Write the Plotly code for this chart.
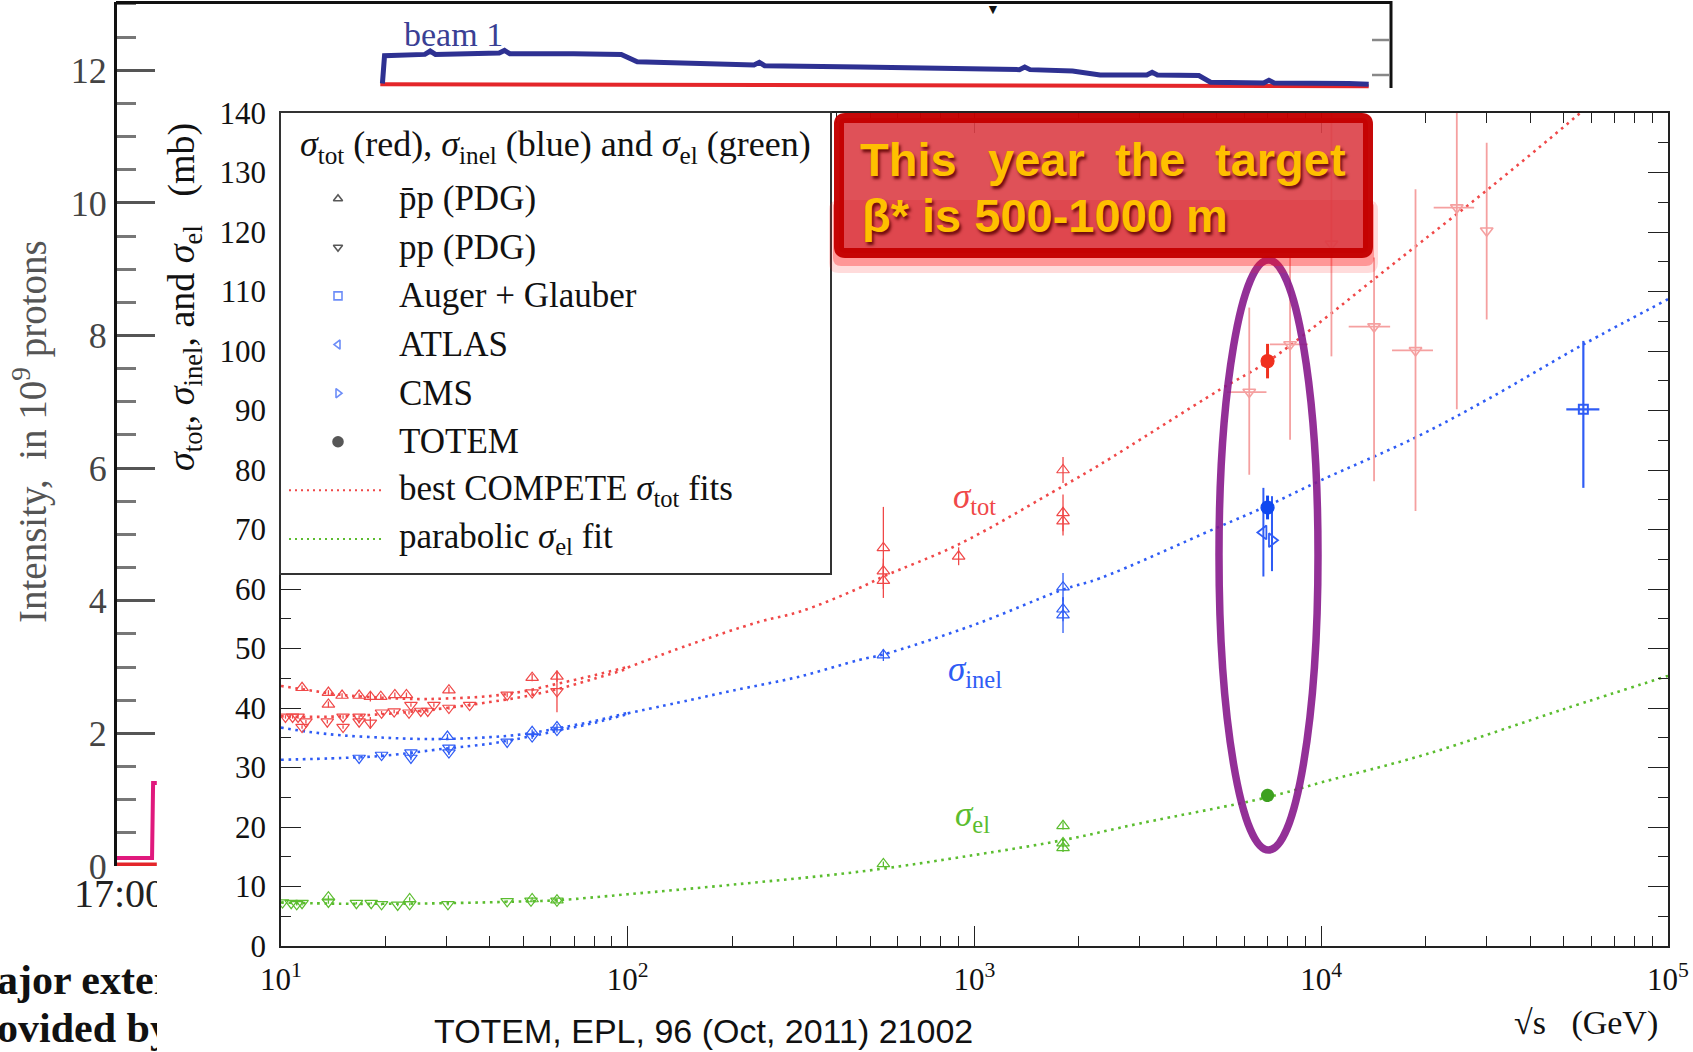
import plotly.graph_objects as go

W, H = 1693, 1052
SERIF = "Liberation Serif, Times New Roman, serif"
SANS = "Liberation Sans, Arial, sans-serif"


def fx(p):
    return p / W


def fy(p):
    return 1 - p / H


# ====================== TOTEM plot data (sqrt(s) [GeV], sigma [mb]) ======================
tot_pbarp_sqrts = [11.5, 13.7, 13.7, 15.0, 16.8, 18.1, 19.4, 21.3, 23.0, 30.5, 53.0, 62.5, 546, 546, 546, 900, 1800, 1800, 1800]
tot_pbarp_sigma = [43.4, 42.6, 40.6, 42.1, 42.1, 41.9, 41.9, 42.2, 42.2, 43.0, 45.1, 45.3, 66.9, 63.0, 61.4, 65.5, 80.0, 72.8, 71.4]
tot_pbarp_err = [0.4, 0.4, 0.5, 0.4, 0.4, 0.8, 0.4, 0.4, 0.4, 0.5, 0.6, 0.9, 6.9, 2.1, 2.9, 1.5, 2.2, 3.1, 2.4]

tot_pp_sqrts = [10.3, 10.8, 11.2, 11.5, 11.8, 13.6, 15.1, 15.1, 16.8, 16.8, 18.1, 19.5, 21.2, 23.4, 23.7, 25.3, 26.5, 27.6, 30.5, 35.0, 44.9, 53.0, 62.5]
tot_pp_sigma = [38.5, 38.5, 38.5, 36.8, 37.7, 37.7, 36.8, 38.5, 37.7, 38.5, 37.5, 39.2, 39.4, 39.2, 40.5, 39.5, 39.5, 40.5, 40.0, 40.5, 42.2, 42.6, 42.8]
tot_pp_err = [0.3, 0.3, 0.3, 0.3, 0.3, 0.3, 0.3, 0.3, 0.3, 0.3, 1.0, 0.3, 0.3, 0.3, 0.3, 0.3, 0.3, 0.3, 0.3, 0.3, 0.4, 0.5, 3.5]

# cosmic-ray pp points (large errors)
cr_sqrts = [6200, 8130, 10700, 14200, 18700, 24600, 30000]
cr_sigma = [93.1, 101.1, 118.0, 104.1, 100.1, 124.1, 120.2]
cr_err_up = [14.2, 14.6, 22.0, 11.6, 27.1, 25.0, 14.8]
cr_err_down = [13.9, 16.0, 18.9, 26.0, 27.0, 33.9, 14.9]
cr_sqrts_low = [5350, 7110, 10700, 12000, 16000, 21100, 30000]
cr_sqrts_high = [6950, 9160, 10700, 15800, 21000, 27600, 30000]

inel_pbarp_sqrts = [30.2, 53.0, 62.5, 546, 1800, 1800, 1800]
inel_pbarp_sigma = [35.2, 36.0, 36.8, 48.9, 60.3, 56.6, 55.6]
inel_pbarp_err = [0.4, 0.4, 0.5, 1.0, 2.4, 2.0, 3.0]

inel_pp_sqrts = [16.8, 19.5, 23.7, 23.7, 30.5, 30.5, 44.9, 53.0, 62.5]
inel_pp_sigma = [31.6, 32.1, 32.5, 31.6, 33.3, 32.5, 34.3, 35.2, 36.3]
inel_pp_err = [0.4, 0.4, 0.4, 0.4, 0.4, 0.4, 0.4, 0.4, 0.4]

el_pbarp_sqrts = [13.7, 23.5, 53.0, 62.5, 546, 1800, 1800, 1800]
el_pbarp_sigma = [8.2, 7.9, 7.9, 7.7, 13.8, 20.2, 17.3, 16.5]
el_pbarp_err = [0.3, 0.3, 0.3, 0.3, 0.4, 0.6, 0.7, 0.7]

el_pp_sqrts = [10.1, 10.7, 11.1, 11.5, 13.7, 16.5, 18.2, 19.5, 21.7, 23.5, 30.3, 44.9, 52.6, 62.5]
el_pp_sigma = [7.3, 7.2, 7.0, 7.2, 7.4, 7.2, 7.2, 7.0, 6.9, 7.0, 7.0, 7.5, 7.6, 7.6]
el_pp_err = [0.2, 0.2, 0.2, 0.4, 0.3, 0.2, 0.2, 0.2, 0.2, 0.2, 0.2, 0.2, 0.2, 0.2]

totem_sqrts = [7000]
totem_tot = [98.3]
totem_tot_err = [2.9]
totem_inel = [73.7]
totem_inel_err = [2.0]
totem_el = [25.3]
totem_el_err = [1.1]

atlas_sqrts = [6810]
atlas_inel = [69.5]
atlas_err_up = [7.5]
atlas_err_down = [7.4]

cms_sqrts = [7210]
cms_inel = [68.2]
cms_err_up = [7.4]
cms_err_down = [5.2]

auger_sqrts = [57000]
auger_inel = [90.2]
auger_err_up = [11.5]
auger_err_down = [13.2]
auger_sqrts_err_minus = [6100]
auger_sqrts_err_plus = [6400]

# fit curves
fit_tot_pbarp_low_x = [10, 12, 15, 20, 25, 30, 40, 50, 63, 80, 100]
fit_tot_pbarp_low_y = [43.7, 43.0, 42.2, 41.7, 41.5, 41.6, 42.0, 42.8, 44.1, 45.5, 46.9]
fit_tot_pp_low_x = [10, 12, 15, 20, 25, 30, 40, 50, 63, 80, 100]
fit_tot_pp_low_y = [38.6, 38.5, 38.6, 39.0, 39.5, 40.0, 41.0, 41.9, 43.2, 44.9, 46.6]
fit_tot_high_x = [100, 150, 240, 314, 467, 546, 900, 1800, 2300, 5100, 7000, 10000, 13800, 19300, 30000, 55800, 100000]
fit_tot_high_y = [46.8, 50.6, 54.5, 56.2, 60.2, 62.1, 67.5, 77.3, 80.9, 93.5, 98.2, 105.0, 111.5, 118.2, 127.0, 140.0, 153.0]

fit_inel_pbarp_low_x = [10, 12, 15, 20, 25, 30, 40, 50, 63, 80, 100]
fit_inel_pbarp_low_y = [36.7, 36.0, 35.4, 35.0, 34.8, 34.8, 35.1, 35.6, 36.6, 37.8, 39.2]
fit_inel_pp_low_x = [10, 15, 20, 30, 40, 50, 63, 80, 100]
fit_inel_pp_low_y = [31.3, 31.6, 32.0, 33.2, 34.0, 35.0, 36.2, 37.5, 39.0]
fit_inel_high_x = [100, 150, 200, 314, 467, 546, 1000, 1800, 2300, 5000, 7000, 10000, 18600, 30000, 57000, 100000]
fit_inel_high_y = [39.1, 41.3, 42.9, 45.3, 48.1, 49.0, 54.0, 59.9, 61.8, 70.3, 74.0, 78.3, 85.4, 91.8, 101.1, 108.7]

fit_el_x = [10, 15, 20, 30, 50, 63, 100, 200, 467, 1000, 1800, 3000, 7000, 10000, 20000, 50000, 100000]
fit_el_y = [7.3, 7.1, 7.1, 7.2, 7.5, 7.7, 8.7, 10.3, 12.5, 15.3, 17.8, 20.6, 25.0, 27.5, 32.2, 39.8, 45.4]

x_major_ticks = [10, 100, 1000, 10000, 100000]
x_tick_text = ["10<sup>1</sup>", "10<sup>2</sup>", "10<sup>3</sup>", "10<sup>4</sup>", "10<sup>5</sup>"]
x_minor_ticks = [20, 30, 40, 50, 60, 70, 80, 90, 200, 300, 400, 500, 600, 700, 800, 900,
                 2000, 3000, 4000, 5000, 6000, 7000, 8000, 9000, 20000, 30000, 40000, 50000,
                 60000, 70000, 80000, 90000]

# legend content
legend_labels = ["p\u0304p (PDG)", "pp (PDG)", "Auger + Glauber", "ATLAS", "CMS", "TOTEM",
                 "best COMPETE <i>σ</i><sub>tot</sub> fits", "parabolic <i>σ</i><sub>el</sub> fit"]
legend_rows = [0, 1, 2, 3, 4, 5, 6, 7]
legend_symbols = ["triangle-up-open", "triangle-down-open", "square-open", "triangle-left-open",
                  "triangle-right-open", "circle"]
legend_symbol_colors = ["#111111", "#111111", "#2f5cf5", "#2f5cf5", "#2f5cf5", "#111111"]

# ====================== background (beam intensity) plot data ======================
bg_hours = [2.50, 2.52, 2.9, 2.95, 3.0, 3.6, 3.65, 3.7, 4.3, 4.75, 4.9, 5.5, 6.0, 6.05, 6.1, 7.0,
            8.0, 8.5, 8.55, 8.6, 9.0, 9.26, 9.7, 9.75, 9.8, 10.19, 10.3, 10.8, 10.85, 10.9, 11.6, 11.79]
beam1_int = [11.80, 12.22, 12.24, 12.29, 12.24, 12.26, 12.30, 12.25, 12.25, 12.24, 12.13, 12.10, 12.08,
             12.12, 12.07, 12.05, 12.02, 12.01, 12.05, 12.01, 11.99, 11.93, 11.93, 11.97, 11.93, 11.92,
             11.82, 11.81, 11.85, 11.81, 11.80, 11.79]
beam2_hours = [2.48, 6.0, 11.79]
beam2_int = [11.79, 11.78, 11.76]
early_red_hours = [0.0, 0.375]
early_red_int = [0.0, 0.0]
early_pink_hours = [0.0, 0.33, 0.34, 0.375]
early_pink_int = [0.12, 0.12, 1.25, 1.25]
bg_y_ticks = [0, 2, 4, 6, 8, 10, 12]

RED = "#f04848"
RED_LIGHT = "#f5a0a0"
BLUE = "#2f5cf5"
GREEN = "#5bbd2f"

fig = go.Figure()


def points(x, y, err_up, symbol, color, err_down=None, size=10, ecolor=None, ethick=1.3,
           xerr_plus=None, xerr_minus=None, lw=1.2):
    ey = dict(type="data", array=err_up, thickness=ethick, width=0, color=ecolor or color)
    if err_down is not None:
        ey["arrayminus"] = err_down
    tr = go.Scatter(x=x, y=y, mode="markers", xaxis="x", yaxis="y", showlegend=False,
                    marker=dict(symbol=symbol, size=size, color=color, line=dict(color=color, width=lw)),
                    error_y=ey, hoverinfo="x+y")
    if xerr_plus is not None:
        tr.error_x = dict(type="data", array=xerr_plus, arrayminus=xerr_minus, thickness=ethick,
                          width=0, color=ecolor or color)
    fig.add_trace(tr)


def fit_line(x, y, color):
    fig.add_trace(go.Scatter(x=x, y=y, mode="lines", xaxis="x", yaxis="y", showlegend=False,
                             line=dict(color=color, width=2.6, dash="2.6px,4.6px", shape="spline"),
                             hoverinfo="skip"))


# fits
fit_line(fit_tot_pbarp_low_x, fit_tot_pbarp_low_y, RED)
fit_line(fit_tot_pp_low_x, fit_tot_pp_low_y, RED)
fit_line(fit_tot_high_x, fit_tot_high_y, RED)
fit_line(fit_inel_pbarp_low_x, fit_inel_pbarp_low_y, BLUE)
fit_line(fit_inel_pp_low_x, fit_inel_pp_low_y, BLUE)
fit_line(fit_inel_high_x, fit_inel_high_y, BLUE)
fit_line(fit_el_x, fit_el_y, GREEN)

# data
cr_xp = [h - c for h, c in zip(cr_sqrts_high, cr_sqrts)]
cr_xm = [c - l for c, l in zip(cr_sqrts, cr_sqrts_low)]
points(cr_sqrts, cr_sigma, cr_err_up, "triangle-down-open", RED_LIGHT, err_down=cr_err_down,
       ethick=1.8, xerr_plus=cr_xp, xerr_minus=cr_xm, size=11, lw=1.6)
points(tot_pbarp_sqrts, tot_pbarp_sigma, tot_pbarp_err, "triangle-up-open", RED, size=11)
points(tot_pp_sqrts, tot_pp_sigma, tot_pp_err, "triangle-down-open", RED, size=11)
points(inel_pbarp_sqrts, inel_pbarp_sigma, inel_pbarp_err, "triangle-up-open", BLUE, size=11)
points(inel_pp_sqrts, inel_pp_sigma, inel_pp_err, "triangle-down-open", BLUE, size=11)
points(el_pbarp_sqrts, el_pbarp_sigma, el_pbarp_err, "triangle-up-open", GREEN, size=11)
points(el_pp_sqrts, el_pp_sigma, el_pp_err, "triangle-down-open", GREEN, size=11)
points(atlas_sqrts, atlas_inel, atlas_err_up, "triangle-left-open", BLUE, err_down=atlas_err_down,
       ethick=2.0, size=12, lw=1.8)
points(cms_sqrts, cms_inel, cms_err_up, "triangle-right-open", BLUE, err_down=cms_err_down,
       ethick=2.0, size=12, lw=1.8)
points(auger_sqrts, auger_inel, auger_err_up, "square-open", BLUE, err_down=auger_err_down,
       ethick=2.2, xerr_plus=auger_sqrts_err_plus, xerr_minus=auger_sqrts_err_minus, size=9, lw=2)
points(totem_sqrts, totem_tot, totem_tot_err, "circle", "#f0301e", ethick=3, size=13)
points(totem_sqrts, totem_inel, totem_inel_err, "circle", "#1048f0", ethick=3, size=13)
points(totem_sqrts, totem_el, totem_el_err, "circle", "#3ea020", ethick=3, size=12)

# ---------------- background intensity plot ----------------
fig.add_trace(go.Scatter(x=beam2_hours, y=beam2_int, mode="lines", xaxis="x2", yaxis="y2",
                         line=dict(color="#e4262a", width=4), showlegend=False, hoverinfo="skip"))
fig.add_trace(go.Scatter(x=bg_hours, y=beam1_int, mode="lines", xaxis="x2", yaxis="y2",
                         line=dict(color="#2e3192", width=5), showlegend=False, hoverinfo="skip"))
fig.add_trace(go.Scatter(x=early_red_hours, y=early_red_int, mode="lines", xaxis="x2", yaxis="y2",
                         line=dict(color="#e4262a", width=7), showlegend=False, hoverinfo="skip"))
fig.add_trace(go.Scatter(x=early_pink_hours, y=early_pink_int, mode="lines", xaxis="x2", yaxis="y2",
                         line=dict(color="#e0197d", width=4), showlegend=False, hoverinfo="skip"))

# clipped slide texts at bottom-left
fig.add_trace(go.Scatter(x=[74, -3, -3], y=[155, 69, 21], mode="text", xaxis="x3", yaxis="y3",
                         text=["17:00", "<b>ajor exter</b>", "<b>ovided by</b>"],
                         textposition="middle right", cliponaxis=True, showlegend=False,
                         textfont=dict(family=SERIF, size=[40, 42, 42], color=["#222222", "#111111", "#111111"]),
                         hoverinfo="skip"))

# ---------------- manual legend box ----------------
fig.add_trace(go.Scatter(x=[0, 549, 549, 0, 0], y=[-1.763, -1.763, 7.70, 7.70, -1.763], mode="lines",
                         fill="toself", fillcolor="white", line=dict(width=0, color="white"),
                         xaxis="x4", yaxis="y4", showlegend=False, hoverinfo="skip"))
fig.add_trace(go.Scatter(x=[57] * 6, y=legend_rows[:6], mode="markers", xaxis="x4", yaxis="y4",
                         marker=dict(symbol=legend_symbols, size=[8, 8, 8, 8, 8, 10],
                                     color=legend_symbol_colors,
                                     line=dict(color=legend_symbol_colors, width=1.6)),
                         showlegend=False, hoverinfo="skip"))
fig.add_trace(go.Scatter(x=[8, 104], y=[legend_rows[6], legend_rows[6]], mode="lines", xaxis="x4", yaxis="y4",
                         line=dict(color=RED, width=2, dash="2px,4px"), showlegend=False, hoverinfo="skip"))
fig.add_trace(go.Scatter(x=[8, 104], y=[legend_rows[7], legend_rows[7]], mode="lines", xaxis="x4", yaxis="y4",
                         line=dict(color=GREEN, width=2, dash="2px,4px"), showlegend=False, hoverinfo="skip"))

annotations = []
for lab, row in zip(legend_labels, legend_rows):
    annotations.append(dict(x=116, y=row, xref="x4", yref="y4", text=lab, showarrow=False,
                            xanchor="left", yanchor="middle",
                            font=dict(family=SERIF, size=35, color="#111")))
annotations.append(dict(x=17, y=-1.064, xref="x4", yref="y4",
                        text="<i>σ</i><sub>tot</sub> (red), <i>σ</i><sub>inel</sub> (blue) and <i>σ</i><sub>el</sub> (green)",
                        showarrow=False, xanchor="left", yanchor="middle",
                        font=dict(family=SERIF, size=36, color="#111")))

# curve labels
annotations += [
    dict(x=3.0, y=75.2, xref="x", yref="y", text="<i>σ</i><sub>tot</sub>", showarrow=False,
         xanchor="center", yanchor="middle", font=dict(family=SERIF, size=35, color=RED)),
    dict(x=3.0, y=46.1, xref="x", yref="y", text="<i>σ</i><sub>inel</sub>", showarrow=False,
         xanchor="center", yanchor="middle", font=dict(family=SERIF, size=35, color=BLUE)),
    dict(x=2.995, y=21.7, xref="x", yref="y", text="<i>σ</i><sub>el</sub>", showarrow=False,
         xanchor="center", yanchor="middle", font=dict(family=SERIF, size=35, color=GREEN)),
]


def paper_text(x, y, text, font, xanchor="center", yanchor="middle", angle=0):
    return dict(x=fx(x), y=fy(y), xref="paper", yref="paper", text=text, showarrow=False,
                xanchor=xanchor, yanchor=yanchor, textangle=angle, font=font)


annotations += [
    paper_text(184, 297,
               "<i>σ</i><sub>tot</sub>, <i>σ</i><sub>inel</sub>, and <i>σ</i><sub>el</sub>\u00a0\u00a0\u00a0(mb)",
               dict(family=SERIF, size=38, color="#111"), angle=-90),
    paper_text(1660, 1023, "√s\u00a0\u00a0\u00a0(GeV)", dict(family=SERIF, size=34, color="#111"), xanchor="right"),
    paper_text(31, 432, "Intensity,\u00a0\u00a0in 10<sup>9</sup> protons", dict(family=SERIF, size=39, color="#555"),
               angle=-90),
    paper_text(453, 34, "beam 1", dict(family=SERIF, size=34, color="#3a3f94")),
    paper_text(993, 9, "▼", dict(family=SANS, size=14, color="#111")),
    paper_text(432, 1031, "TOTEM, EPL, 96 (Oct, 2011) 21002", dict(family=SANS, size=34, color="#111"),
               xanchor="left"),
]

# callout box texts
BOXFONT = dict(family=SANS, size=47, color="#ffc000", weight="bold", shadow="2px 3px 3px rgba(90,0,0,0.85)")
annotations += [
    paper_text(858, 159, "This", BOXFONT, xanchor="left"),
    paper_text(1036, 159, "year", BOXFONT),
    paper_text(1150, 159, "the", BOXFONT),
    paper_text(1348, 159, "target", BOXFONT, xanchor="right"),
    paper_text(860, 215, "β* is 500-1000 m", BOXFONT, xanchor="left"),
]


def rounded(x0, y0, x1, y1, r):
    pts = [("M", x0 + r, y0), ("L", x1 - r, y0), ("Q", x1, y0, x1, y0 + r), ("L", x1, y1 - r),
           ("Q", x1, y1, x1 - r, y1), ("L", x0 + r, y1), ("Q", x0, y1, x0, y1 - r), ("L", x0, y0 + r),
           ("Q", x0, y0, x0 + r, y0)]
    s = ""
    for p in pts:
        cmd = p[0]
        coords = p[1:]
        out = []
        for i in range(0, len(coords), 2):
            out.append(f"{fx(coords[i]):.5f},{fy(coords[i + 1]):.5f}")
        s += cmd + " ".join(out) + " "
    return s + "Z"


shapes = [
    # background plot frame pieces
    dict(type="line", xref="paper", yref="paper", x0=fx(116), x1=fx(1392), y0=fy(2.5), y1=fy(2.5),
         line=dict(color="#111", width=3), layer="above"),
    dict(type="line", xref="paper", yref="paper", x0=fx(1391), x1=fx(1391), y0=fy(1), y1=fy(88),
         line=dict(color="#111", width=3), layer="above"),
    dict(type="line", xref="paper", yref="paper", x0=fx(1372), x1=fx(1390), y0=fy(40), y1=fy(40),
         line=dict(color="#888", width=2.5), layer="above"),
    dict(type="line", xref="paper", yref="paper", x0=fx(1372), x1=fx(1390), y0=fy(75), y1=fy(75),
         line=dict(color="#888", width=2.5), layer="above"),
    # purple hand-drawn ellipse
    dict(type="circle", xref="paper", yref="paper", x0=fx(1219), x1=fx(1318), y0=fy(850), y1=fy(260),
         line=dict(color="rgba(135,25,140,0.9)", width=7.5), layer="above"),
    # glow under callout box
    dict(type="path", xref="paper", yref="paper", path=rounded(829, 200, 1378, 273, 10),
         fillcolor="rgba(255,30,30,0.16)", line=dict(width=0), layer="above"),
    dict(type="path", xref="paper", yref="paper", path=rounded(833, 200, 1374, 266, 8),
         fillcolor="rgba(255,10,10,0.32)", line=dict(width=0), layer="above"),
    # callout box
    dict(type="path", xref="paper", yref="paper", path=rounded(839, 118, 1368, 253, 6),
         fillcolor="rgba(220,62,70,0.9)", line=dict(color="rgba(196,0,0,0.97)", width=10), layer="above"),
]

fig.update_layout(
    width=W, height=H, margin=dict(l=0, r=0, t=0, b=0, pad=0),
    paper_bgcolor="white", plot_bgcolor="rgba(0,0,0,0)", template="none",
    font=dict(family=SERIF, color="#111"),
    showlegend=False,
    annotations=annotations, shapes=shapes,
    xaxis=dict(type="log", range=[1, 5], domain=[fx(281), fx(1668)], anchor="y",
               showline=True, linecolor="#222", linewidth=1.6, mirror="ticks",
               ticks="inside", ticklen=20, tickwidth=1.4, tickcolor="#222",
               tickmode="array", tickvals=x_major_ticks, ticktext=x_tick_text,
               tickfont=dict(family=SERIF, size=31, color="#111"), ticklabelstandoff=5,
               minor=dict(ticks="inside", ticklen=10, tickwidth=1.2, tickcolor="#222",
                          tickmode="array", tickvals=x_minor_ticks, showgrid=False),
               showgrid=False, zeroline=False),
    yaxis=dict(range=[0, 140], domain=[fy(946), fy(113)], anchor="x",
               showline=True, linecolor="#222", linewidth=1.6, mirror="ticks",
               ticks="inside", ticklen=20, tickwidth=1.4, tickcolor="#222",
               tick0=0, dtick=10, tickfont=dict(family=SERIF, size=31, color="#111"), ticklabelstandoff=7,
               minor=dict(ticks="inside", ticklen=10, tickwidth=1.2, tickcolor="#222", dtick=5, showgrid=False),
               showgrid=False, zeroline=False),
    xaxis2=dict(domain=[fx(117), fx(1391)], range=[0, 12], anchor="y2", visible=False),
    yaxis2=dict(domain=[fy(866), fy(2)], range=[0, 13.03], anchor="x2",
                showline=True, linecolor="#111", linewidth=3,
                ticks="inside", ticklen=38, tickwidth=2.5, tickcolor="#555",
                tickmode="array", tickvals=bg_y_ticks,
                tickfont=dict(family=SERIF, size=36, color="#444"),
                minor=dict(ticks="inside", ticklen=19, tickwidth=2.5, tickcolor="#777", dtick=0.5, showgrid=False),
                showgrid=False, zeroline=False),
    xaxis3=dict(domain=[0, fx(157)], range=[0, 157], anchor="y3", visible=False),
    yaxis3=dict(domain=[0, 182 / H], range=[0, 182], anchor="x3", visible=False),
    xaxis4=dict(domain=[fx(281), fx(830)], range=[0, 549], anchor="y4",
                showline=True, mirror=True, linecolor="#333", linewidth=1.6,
                showticklabels=False, ticks="", showgrid=False, zeroline=False),
    yaxis4=dict(domain=[fy(573), fy(113)], range=[7.70, -1.763], anchor="x4",
                showline=True, mirror=True, linecolor="#333", linewidth=1.6,
                showticklabels=False, ticks="", showgrid=False, zeroline=False),
)

fig.write_html("out.html", config={"displayModeBar": False},
               post_script="document.body.style.margin='0';document.body.style.overflow='hidden';")
